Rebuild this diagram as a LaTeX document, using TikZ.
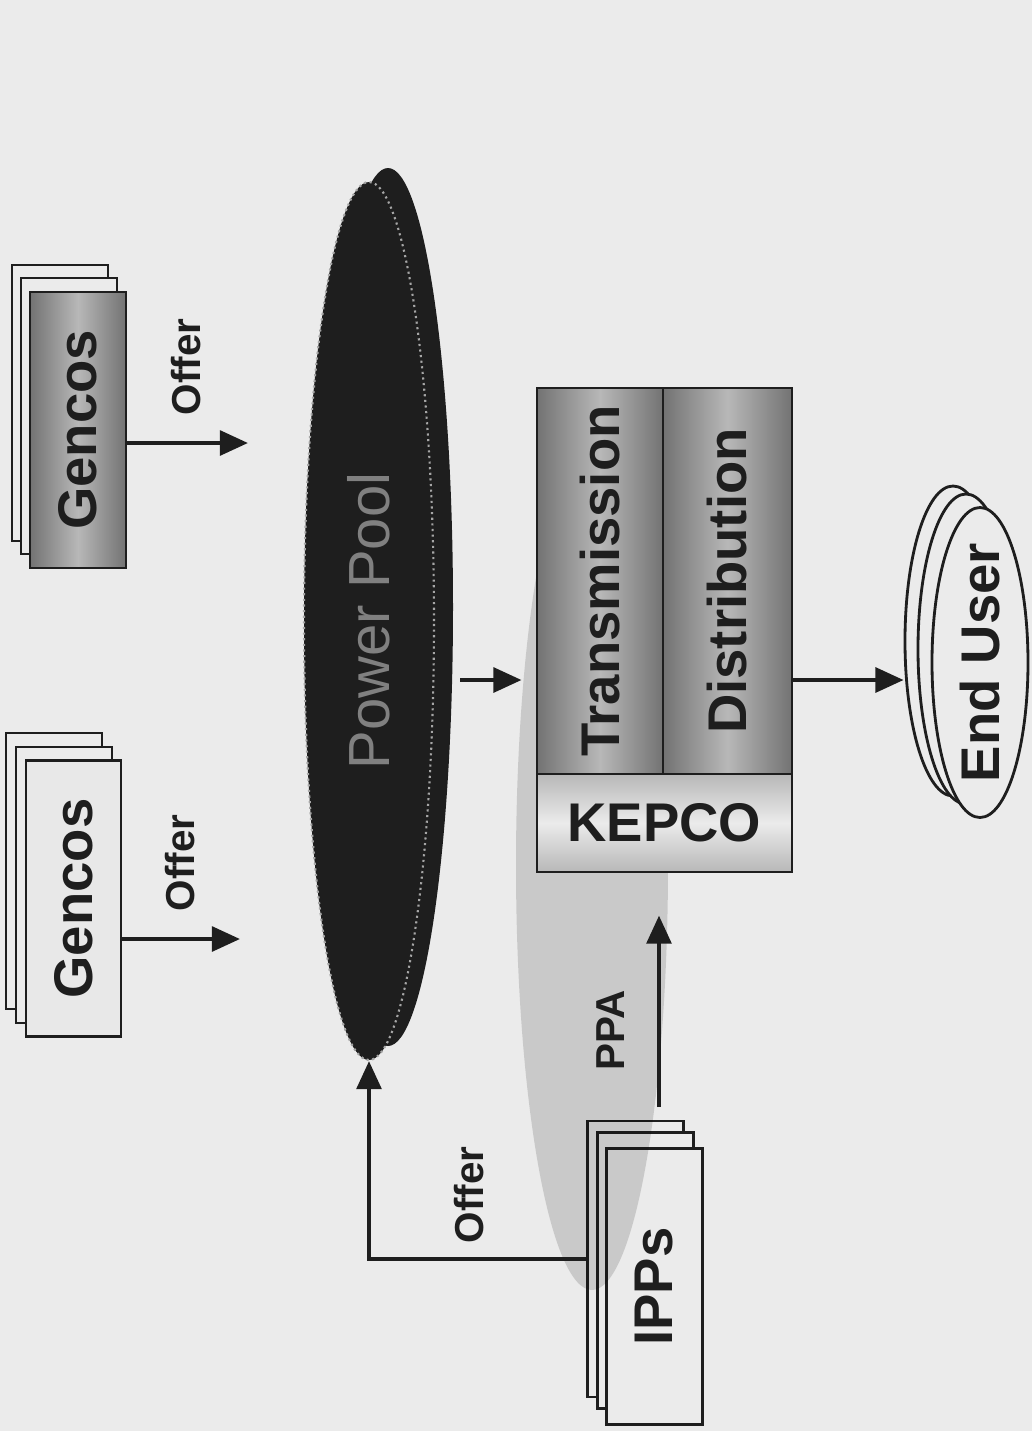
\documentclass[tikz,border=0pt]{standalone}
\usepackage{fontspec}
\setmainfont{Liberation Sans}
\usepackage{graphicx}
\usetikzlibrary{arrows.meta,positioning,calc,shapes.geometric}
\definecolor{paper}{HTML}{EBEBEB}
\definecolor{ink}{HTML}{1E1E1E}
\newcommand{\sidetext}[1]{\rotatebox{90}{#1}}

\begin{document}
\begin{tikzpicture}[
  card/.style={draw=ink,line width=0.8pt,fill=paper,minimum width=9.6mm,minimum height=27.6mm,inner sep=0pt},
  dark/.style={left color=black!55,right color=black!55,middle color=black!28},
  cell/.style={draw=ink,line width=0.8pt,inner sep=0pt},
  disc/.style={ellipse,draw=ink,line width=0.8pt,fill=paper,minimum width=9.6mm,minimum height=31mm,inner sep=0pt},
  pool/.style={ellipse,fill=ink,minimum width=13mm,minimum height=87.8mm,inner sep=0pt},
  big/.style={font=\bfseries\fontsize{15.5}{18}\selectfont,text=ink},
  lab/.style={font=\bfseries\fontsize{11.5}{13}\selectfont,text=ink,inner sep=0pt},
  flow/.style={draw=ink,line width=1.2pt,-{Triangle[length=8pt,width=7pt]}}]
  \fill[paper] (0,0) rectangle (10.32,-14.31);
  \useasboundingbox (0,0) rectangle (10.32,-14.31);
  % generators
  \node[card] (gA3) at (0.60,-4.03) {};
  \node[card] (gA2) at (0.69,-4.16) {};
  \node[card,dark,big] (gA) at (0.78,-4.30) {\sidetext{Gencos}};
  \node[card] (gB3) at (0.54,-8.71) {};
  \node[card] (gB2) at (0.64,-8.85) {};
  \node[card,fill=black!9,minimum width=9.5mm,big] (gB) at (0.735,-8.985) {\sidetext{Gencos}};
  \node[card] (ipA) at (6.355,-12.59) {};
  \node[card] (ipB) at (6.455,-12.705) {};
  \node[card,big] (ip) at (6.545,-12.865) {\sidetext{IPPs}};
  % pool
  \node[pool] (poolb) at (3.88,-6.07) {};
  \node[pool,draw=white!65!black,densely dotted,line width=0.6pt,font=\fontsize{16.5}{18}\selectfont,text=gray] (pool) at (3.69,-6.21) {\sidetext{Power Pool}};
  % shadow from the back of the sheet
  \fill[black,fill opacity=0.14] (5.92,-8.65) ellipse (0.76 and 4.25);
  % KEPCO
  \node[cell,dark,minimum width=12.6mm,minimum height=38.6mm,big] (tx) at (6.00,-5.81) {\sidetext{Transmission}};
  \node[cell,dark,minimum width=12.9mm,minimum height=38.6mm,big] (dx) at (7.275,-5.81) {\sidetext{Distribution}};
  \node[cell,top color=black!28,bottom color=black!28,middle color=paper,minimum width=25.5mm,minimum height=9.8mm,big] (kp) at (6.645,-8.23) {KEPCO};
  % end user
  \node[disc] (euA) at (9.53,-6.41) {};
  \node[disc] (euB) at (9.66,-6.49) {};
  \node[disc,label={[big]center:\sidetext{End User}}] (eu) at (9.80,-6.625) {};
  % arrows
  \coordinate (offA) at (2.48,-4.43);
  \coordinate (offB) at (2.40,-9.39);
  \coordinate (feed) at (4.60,-6.80);
  \coordinate (ppa) at (6.59,-11.07);
  \draw[flow] (offA -| gA.east) -- (offA);
  \draw[flow] (offB -| gB.east) -- (offB);
  \draw[flow,shorten >=4pt] (feed) -- (feed -| tx.west);
  \draw[flow] (feed -| dx.east) -- (feed -| euA.west);
  \draw[flow] (ipA.west) -| (pool.south);
  \draw[flow,shorten >=12pt] (ppa) -- (ppa |- kp.south);
  \node[lab] (offerA) at (1.86,-3.67) {\sidetext{Offer}};
  \node[lab] (offerB) at (1.80,-8.63) {\sidetext{Offer}};
  \node[lab] (offerI) at (4.69,-11.95) {\sidetext{Offer}};
  \node[lab] (ppalab) at (6.11,-10.30) {\sidetext{PPA}};
\end{tikzpicture}
\end{document}
